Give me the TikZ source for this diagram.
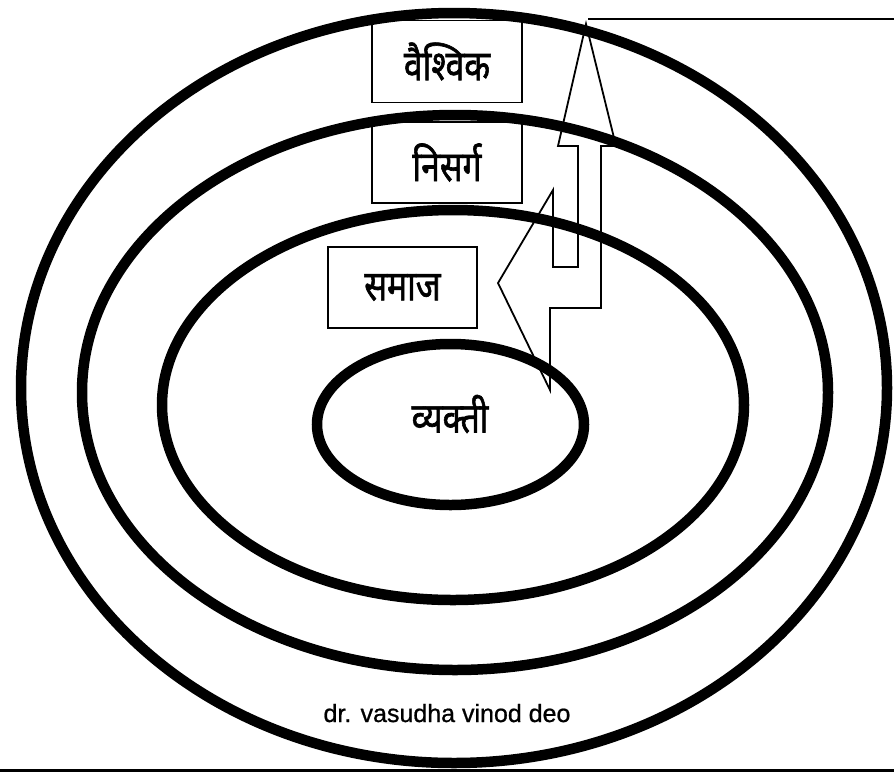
\documentclass[tikz,border=0pt]{standalone}
\usepackage{graphicx}
\usepackage{fontspec}
\setmainfont{Liberation Sans}
\newfontfamily\authfont{Liberation Sans}[BoldFont={Liberation Sans},BoldFeatures={FakeBold=0.8}]
\newfontfamily\deva[Script=Devanagari,FakeBold=1.6]{Noto Sans}
\newcommand{\dtext}[1]{\scalebox{0.8}[1]{\deva\bfseries\fontsize{42}{46}\selectfont #1}}
\begin{document}
\begin{tikzpicture}[x=1pt,y=-1pt,
  ring/.style={line width=10.5pt,draw=black},
  lblbox/.style={draw=black,line width=1.8pt,minimum width=150pt,minimum height=82pt,inner sep=0pt},
  thin/.style={line width=1.8pt,draw=black},
]
\useasboundingbox[fill=white] (0,0) rectangle (894,772);
% rings
\draw[ring] (454,388) ellipse [x radius=433, y radius=375];
\draw[ring] (455,392.5) ellipse [x radius=373, y radius=277.5];
\draw[ring] (453,405) ellipse [x radius=291, y radius=195];
\draw[ring] (450.5,424.5) ellipse [x radius=133.5, y radius=80.5];
% boxes
\node[lblbox] (vaishvik) at (447,61.5) {\dtext{वैश्विक}};
\node[lblbox,minimum height=81pt] (nisarg) at (447,162.5) {\dtext{निसर्ग}};
\node[lblbox,minimum width=149pt,minimum height=81pt] (samaj) at (402.5,287.5) {\dtext{समाज}};
\node (vyakti) at (450,414) {\dtext{व्यक्ती}};
\node[anchor=base] (author) at (447,722) {\authfont\bfseries\fontsize{25}{28}\selectfont dr. vasudha vinod deo};
% arrow shape
\coordinate (tip) at (586,24);
\coordinate (topline) at (588,19);
\coordinate (edge) at (894,19);
\draw[thin,line join=miter] (tip) -- (616,146) -- (601,146) -- (601,308) -- (550,308) -- (550,390)
  -- (498,283) -- (553,190) -- (553,267) -- (578,267) -- (578,146) -- (558,146) -- cycle;
\draw[thin] (topline) -- (edge);
\coordinate (bl) at (0,770.5);
\coordinate (br) at (894,770.5);
\draw[line width=3pt] (bl) -- (br);
\end{tikzpicture}
\end{document}
